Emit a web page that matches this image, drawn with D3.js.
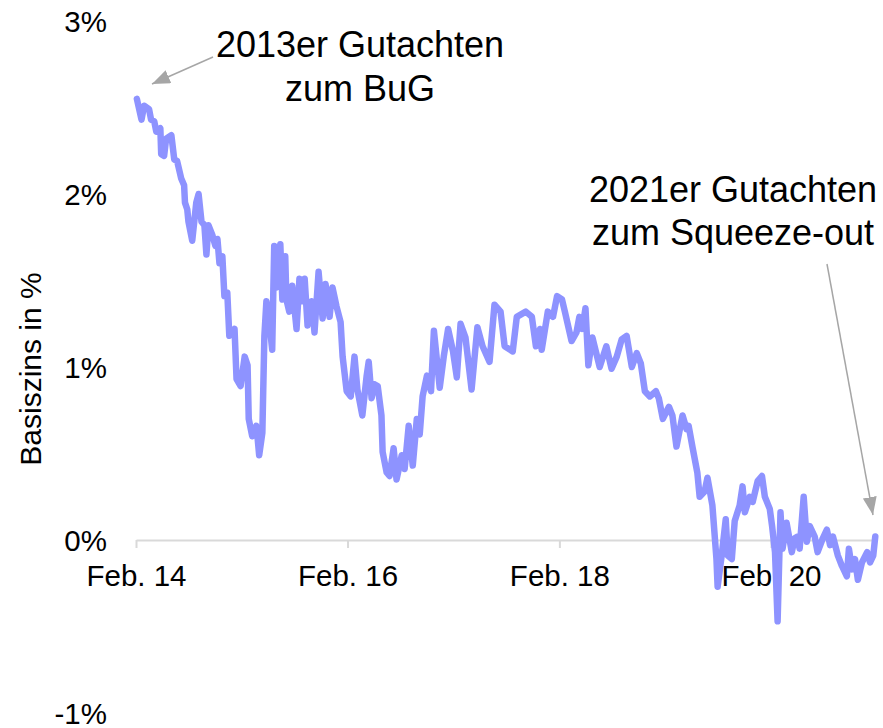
<!DOCTYPE html>
<meta charset="utf-8">
<style>
    body { margin: 0; background: #fff; }
    text { font-family: "Liberation Sans", Arial, sans-serif; fill: #000; }
</style>
<body>
<script src="https://cdn.jsdelivr.net/npm/d3@7"></script>
<script>
    var width = 883,
        height = 728

    // Basiszins (%)
    var dates = [
        "2014-02-04","2014-02-20","2014-03-01","2014-03-18","2014-03-25","2014-04-05","2014-04-12","2014-04-26","2014-04-29","2014-05-09",
        "2014-05-16","2014-06-03","2014-06-13","2014-06-23","2014-07-07","2014-07-17","2014-07-20","2014-07-28","2014-08-01","2014-08-14",
        "2014-08-28","2014-09-05","2014-09-15","2014-09-25","2014-10-02","2014-10-09","2014-10-23","2014-11-02","2014-11-09","2014-11-16",
        "2014-11-26","2014-12-03","2014-12-13","2014-12-20","2015-01-07","2015-01-14","2015-01-28","2015-02-11","2015-02-21","2015-02-25",
        "2015-03-09","2015-03-23","2015-03-26","2015-04-02","2015-04-13","2015-04-20","2015-04-27","2015-05-07","2015-05-17","2015-05-21",
        "2015-05-24","2015-05-31","2015-06-14","2015-06-21","2015-07-01","2015-07-05","2015-07-15","2015-07-25","2015-08-09","2015-08-19",
        "2015-08-30","2015-09-06","2015-09-16","2015-09-30","2015-10-10","2015-10-24","2015-11-07","2015-11-17","2015-12-01","2015-12-11",
        "2015-12-25","2016-01-08","2016-01-15","2016-01-29","2016-02-12","2016-02-25","2016-03-06","2016-03-23","2016-04-07","2016-04-14",
        "2016-04-24","2016-05-04","2016-05-15","2016-05-28","2016-06-01","2016-06-15","2016-06-25","2016-07-09","2016-07-19","2016-08-06",
        "2016-08-16","2016-08-30","2016-09-13","2016-09-27","2016-10-07","2016-10-17","2016-11-01","2016-11-15","2016-11-25","2016-12-15",
        "2016-12-29","2017-01-13","2017-01-30","2017-02-12","2017-02-25","2017-03-14","2017-04-04","2017-04-24","2017-05-12","2017-06-05",
        "2017-06-22","2017-07-13","2017-07-27","2017-08-24","2017-09-07","2017-10-08","2017-10-29","2017-11-12","2017-11-26","2017-12-02",
        "2017-12-23","2018-01-10","2018-01-24","2018-02-10","2018-02-20","2018-03-15","2018-04-01","2018-04-11","2018-04-21","2018-05-02",
        "2018-05-12","2018-05-26","2018-06-20","2018-07-13","2018-07-31","2018-08-18","2018-09-04","2018-09-21","2018-10-09","2018-10-26",
        "2018-11-09","2018-11-23","2018-12-10","2018-12-31","2019-01-10","2019-01-24","2019-02-14","2019-02-26","2019-03-12","2019-04-02",
        "2019-04-16","2019-04-23","2019-05-06","2019-05-23","2019-05-31","2019-06-17","2019-06-27","2019-07-14","2019-07-28","2019-08-01",
        "2019-08-15","2019-08-29","2019-09-05","2019-09-19","2019-09-29","2019-10-16","2019-10-26","2019-11-03","2019-11-20","2019-11-30",
        "2019-12-17","2020-01-01","2020-01-11","2020-01-28","2020-02-05","2020-02-15","2020-02-24","2020-03-05","2020-03-12","2020-03-26",
        "2020-04-13","2020-04-23","2020-05-03","2020-05-10","2020-05-24","2020-06-04","2020-06-14","2020-07-01","2020-07-11","2020-07-29",
        "2020-08-12","2020-08-23","2020-09-02","2020-09-19","2020-10-03","2020-10-20","2020-10-27","2020-11-07","2020-11-17","2020-11-27",
        "2020-12-11","2020-12-29","2021-01-08","2021-01-19","2021-01-26"
    ]

    var rates = [
        2.55, 2.43, 2.51, 2.49, 2.43, 2.42, 2.36, 2.38, 2.23, 2.22,
        2.32, 2.34, 2.20, 2.19, 2.09, 2.05, 1.95, 1.91, 1.84, 1.73,
        1.95, 2.00, 1.84, 1.82, 1.65, 1.82, 1.76, 1.70, 1.74, 1.60,
        1.64, 1.41, 1.43, 1.18, 1.22, 0.93, 0.89, 1.06, 1.01, 0.70,
        0.60, 0.66, 0.62, 0.49, 0.62, 1.18, 1.38, 1.26, 1.10, 1.45,
        1.70, 1.46, 1.71, 1.39, 1.64, 1.39, 1.32, 1.47, 1.22, 1.51,
        1.38, 1.51, 1.24, 1.38, 1.20, 1.55, 1.28, 1.48, 1.29, 1.46,
        1.35, 1.26, 1.06, 0.86, 0.83, 1.06, 0.87, 0.72, 0.95, 1.03,
        0.82, 0.90, 0.89, 0.72, 0.51, 0.39, 0.37, 0.53, 0.35, 0.49,
        0.41, 0.66, 0.43, 0.70, 0.61, 0.83, 0.95, 0.86, 1.21, 0.88,
        1.06, 1.22, 1.09, 0.94, 1.25, 1.17, 0.87, 1.23, 1.12, 1.03,
        1.36, 1.32, 1.12, 1.09, 1.29, 1.32, 1.29, 1.12, 1.22, 1.10,
        1.32, 1.29, 1.41, 1.39, 1.32, 1.15, 1.20, 1.29, 1.22, 1.34,
        1.01, 1.17, 1.00, 1.12, 0.99, 1.06, 1.16, 1.18, 1.00, 1.08,
        1.02, 0.86, 0.83, 0.86, 0.82, 0.70, 0.77, 0.72, 0.54, 0.72,
        0.64, 0.66, 0.54, 0.39, 0.25, 0.28, 0.36, 0.20, -0.11, -0.27,
        -0.09, 0.12, -0.09, -0.11, 0.11, 0.20, 0.31, 0.16, 0.25, 0.22,
        0.34, 0.37, 0.25, 0.18, 0.08, -0.07, -0.47, 0.16, -0.05, 0.10,
        -0.07, 0.01, 0.02, -0.05, 0.25, -0.01, 0.08, 0.02, -0.07, 0.01,
        0.06, -0.03, 0.02, -0.09, -0.15, -0.21, -0.05, -0.17, -0.11, -0.23,
        -0.13, -0.07, -0.13, -0.09, 0.02
    ]

    var tickDates = ["2014-02-01", "2016-02-01", "2018-02-01", "2020-02-01"]
    var tickLabels = ["Feb. 14", "Feb. 16", "Feb. 18", "Feb. 20"]
    var yTicks = [-1, 0, 1, 2, 3]
    var yTitle = "Basiszins in %"
    var note2013 = ["2013er Gutachten", "zum BuG"]
    var note2021 = ["2021er Gutachten", "zum Squeeze-out"]

    var parse = d3.timeParse("%Y-%m-%d")
    var data = dates.map(function (d, i) { return { date: parse(d), value: rates[i] } })

    var svg = d3.select("body").append("svg")
        .attr("width", width)
        .attr("height", height)

    var x = d3.scaleTime()
        .domain([parse("2014-02-01"), parse("2021-02-01")])
        .range([136, 877])

    var y = d3.scaleLinear()
        .domain([-1, 3])
        .range([713, 21])

    // y labels only, no axis line
    var yAxis = svg.append("g")
        .attr("transform", "translate(136,0)")
        .call(d3.axisLeft(y).tickValues(yTicks).tickSize(0).tickPadding(29)
            .tickFormat(function (d) { return d + "%" }))
    yAxis.select(".domain").remove()
    yAxis.selectAll("text").style("font-size", "29.5px").attr("dy", "0.35em")

    var xAxis = svg.append("g")
        .attr("transform", "translate(0," + y(0) + ")")
        .call(d3.axisBottom(x)
            .tickValues(tickDates.map(parse))
            .tickSize(8)
            .tickSizeOuter(0)
            .tickPadding(17)
            .tickFormat(function (d, i) { return tickLabels[i] }))
    xAxis.select(".domain").attr("stroke", "#d9d9d9").attr("stroke-width", 2)
    xAxis.selectAll(".tick line").attr("stroke", "#d9d9d9").attr("stroke-width", 2)
    xAxis.selectAll("text").style("font-size", "29.5px")

    svg.append("text")
        .attr("transform", "translate(41,369) rotate(-90)")
        .attr("text-anchor", "middle")
        .style("font-size", "30px")
        .text(yTitle)

    var line = d3.line()
        .x(function (d) { return x(d.date) })
        .y(function (d) { return y(d.value) })

    svg.append("path")
        .datum(data)
        .attr("fill", "none")
        .attr("stroke", "#8e93ff")
        .attr("stroke-width", 6.5)
        .attr("stroke-linejoin", "round")
        .attr("stroke-linecap", "round")
        .attr("d", line)

    // annotations
    svg.append("defs").append("marker")
        .attr("id", "head")
        .attr("markerUnits", "userSpaceOnUse")
        .attr("markerWidth", 20)
        .attr("markerHeight", 16)
        .attr("refX", 18)
        .attr("refY", 7)
        .attr("orient", "auto")
        .append("path")
        .attr("d", "M0,0 L18,7 L0,14 Z")
        .attr("fill", "#a6a6a6")

    svg.append("line")
        .attr("x1", 213).attr("y1", 57)
        .attr("x2", 152).attr("y2", 84)
        .attr("stroke", "#a6a6a6").attr("stroke-width", 1.5)
        .attr("marker-end", "url(#head)")

    svg.append("line")
        .attr("x1", 827).attr("y1", 264)
        .attr("x2", 873).attr("y2", 515)
        .attr("stroke", "#a6a6a6").attr("stroke-width", 1.5)
        .attr("marker-end", "url(#head)")

    svg.append("text")
        .attr("text-anchor", "middle")
        .style("font-size", "36px")
        .selectAll("tspan")
        .data(note2013)
        .enter().append("tspan")
        .attr("x", 360)
        .attr("y", function (d, i) { return 57 + i * 44 })
        .text(function (d) { return d })

    svg.append("text")
        .attr("text-anchor", "middle")
        .style("font-size", "36px")
        .selectAll("tspan")
        .data(note2021)
        .enter().append("tspan")
        .attr("x", 733)
        .attr("y", function (d, i) { return 202 + i * 43 })
        .text(function (d) { return d })
</script>
